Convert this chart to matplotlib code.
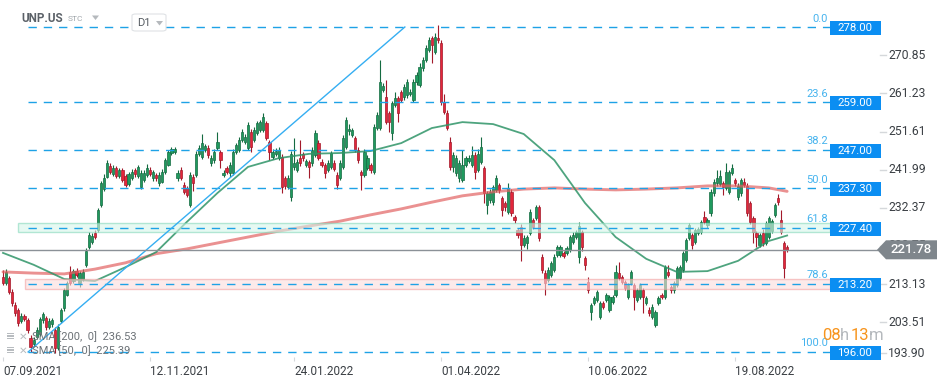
import numpy as np
import matplotlib
matplotlib.use('Agg')
import matplotlib.pyplot as plt
import matplotlib.transforms as mtransforms
from matplotlib.patches import Rectangle, Polygon, FancyBboxPatch
from matplotlib.lines import Line2D

plt.rcParams['font.family'] = ['Roboto', 'DejaVu Sans']

# ---------------- data ----------------
opens = [214.9, 213.4, 214.6, 211.1, 207.9, 206.6, 203.8, 205.1, 204.1, 199.5,
         198.0, 199.8, 200.5, 204.0, 204.5, 202.3, 203.0, 201.5, 197.0, 203.8,
         207.0, 210.5, 216.2, 214.0, 216.5, 213.5, 214.5, 218.0, 222.5, 223.8,
         226.0, 226.8, 233.1, 237.0, 240.2, 243.0, 241.0, 242.5, 240.5, 241.8,
         240.5, 238.5, 240.0, 241.8, 240.5, 237.6, 239.4, 240.7, 242.0, 239.8,
         240.7, 238.6, 239.0, 241.4, 243.2, 246.3, 246.5, 239.8, 242.0, 238.1,
         237.4, 233.1, 240.2, 240.7, 246.0, 245.2, 247.0, 247.5, 243.7, 244.4,
         247.5, 246.5, 240.7, 242.4, 241.2, 241.2, 246.5, 247.0, 249.5, 249.0,
         247.5, 251.5, 249.5, 251.3, 252.0, 252.0, 253.8, 249.0, 245.2, 246.0,
         244.9, 245.2, 239.8, 237.6, 235.0, 242.7, 242.0, 245.0, 246.0, 243.2,
         243.9, 243.7, 245.7, 248.7, 243.9, 243.2, 242.0, 242.7, 243.7, 240.7,
         239.9, 242.7, 247.7, 251.8, 250.8, 250.0, 247.0, 241.4, 240.7, 242.5,
         243.2, 241.4, 252.5, 252.5, 262.2, 260.3, 256.3, 251.3, 258.3, 260.0,
         261.6, 260.3, 260.8, 261.2, 259.6, 264.0, 263.4, 267.6, 269.7, 272.2,
         275.2, 271.7, 275.2, 274.0, 259.0, 256.3, 249.0, 242.7, 241.2, 239.9,
         239.4, 243.2, 244.2, 243.2, 245.7, 242.0, 244.0, 242.4, 233.0, 234.3,
         233.8, 236.9, 238.1, 234.8, 233.6, 231.3, 236.4, 230.0, 226.8, 227.5,
         223.0, 223.5, 226.0, 229.3, 229.8, 232.6, 220.0, 216.0, 214.2, 215.4,
         216.7, 220.5, 220.5, 221.0, 221.0, 221.8, 223.8, 225.0, 220.0, 226.3,
         219.7, 213.7, 206.0, 208.3, 209.1, 204.8, 208.3, 209.1, 206.6, 208.6,
         210.4, 216.0, 214.9, 213.7, 209.9, 213.4, 212.9, 209.1, 209.9, 211.6,
         208.3, 206.6, 204.8, 202.8, 208.3, 210.4, 209.9, 216.2, 212.4, 211.6,
         213.0, 214.7, 216.7, 219.2, 224.8, 225.5, 223.8, 226.0, 226.3, 230.0,
         228.0, 231.0, 236.0, 238.6, 238.4, 238.6, 237.4, 236.4, 241.2, 239.4,
         235.0, 236.0, 238.9, 238.0, 233.6, 229.8, 226.0, 223.0, 226.0, 223.5,
         225.0, 226.5, 230.5, 234.8, 229.3, 223.5, 222.5]

highs = [216.7, 217.0, 215.2, 211.8, 208.6, 207.2, 205.8, 205.6, 204.6, 200.2,
         199.8, 202.2, 204.8, 206.2, 205.0, 204.5, 204.6, 202.2, 203.0, 207.2,
         212.2, 214.0, 217.6, 217.0, 217.2, 216.4, 217.0, 222.2, 226.2, 226.0,
         226.8, 232.4, 239.2, 240.8, 244.5, 243.6, 243.2, 243.0, 242.4, 242.3,
         241.0, 241.4, 242.2, 242.4, 243.2, 241.8, 241.8, 243.4, 242.6, 242.0,
         241.2, 241.4, 242.2, 245.0, 247.0, 247.6, 247.8, 241.8, 242.6, 238.8,
         238.0, 241.4, 240.8, 246.8, 248.2, 251.0, 248.6, 248.2, 245.6, 247.2,
         251.5, 247.0, 241.8, 243.0, 244.0, 247.2, 248.8, 250.2, 252.2, 251.0,
         254.0, 252.2, 252.8, 254.4, 254.6, 256.3, 254.4, 249.6, 247.2, 247.4,
         247.6, 246.0, 240.4, 240.6, 246.8, 250.0, 244.6, 249.5, 246.5, 244.8,
         244.5, 247.6, 252.0, 249.5, 244.6, 243.8, 244.4, 246.8, 244.4, 241.3,
         244.4, 250.8, 255.2, 253.5, 252.6, 250.6, 247.6, 242.0, 247.2, 245.6,
         243.8, 253.5, 256.5, 269.7, 263.8, 264.6, 256.8, 259.4, 261.5, 260.6,
         262.2, 263.6, 265.0, 262.4, 264.8, 266.6, 268.8, 270.4, 273.4, 275.4,
         275.8, 276.4, 278.5, 274.6, 261.0, 257.0, 250.3, 246.4, 245.6, 244.4,
         247.0, 245.5, 245.6, 248.0, 246.4, 247.2, 250.3, 243.0, 236.6, 237.0,
         238.2, 240.6, 238.6, 235.4, 234.2, 238.6, 237.0, 230.6, 227.4, 228.2,
         225.4, 225.6, 232.0, 229.8, 233.2, 233.2, 220.6, 216.6, 217.4, 219.0,
         220.6, 223.0, 223.0, 221.6, 222.8, 225.6, 226.2, 226.8, 228.8, 226.8,
         220.2, 214.9, 208.4, 210.2, 211.6, 208.8, 208.8, 211.0, 210.4, 210.4,
         218.0, 218.7, 215.4, 214.2, 213.4, 216.8, 213.4, 212.2, 213.4, 212.2,
         210.2, 207.4, 208.0, 206.6, 210.2, 211.0, 218.0, 218.0, 213.0, 214.0,
         217.8, 218.0, 221.6, 224.8, 228.6, 226.0, 227.4, 227.6, 229.4, 231.5,
         229.8, 237.0, 239.6, 241.9, 242.0, 239.2, 243.6, 242.0, 243.5, 240.0,
         238.6, 240.0, 239.8, 238.6, 234.2, 230.4, 226.6, 226.0, 227.0, 229.0,
         230.4, 229.6, 233.6, 235.8, 231.8, 224.0, 222.9]

lows = [212.8, 213.0, 210.6, 207.6, 205.0, 202.6, 203.2, 203.8, 200.8, 196.0,
        197.2, 199.2, 200.0, 203.4, 201.6, 201.8, 202.2, 195.8, 196.4, 203.2,
        206.4, 210.0, 213.0, 213.5, 214.8, 212.4, 214.0, 217.5, 222.0, 223.2,
        224.4, 226.2, 232.6, 236.5, 239.8, 240.8, 240.4, 240.0, 239.8, 238.8,
        237.6, 238.0, 239.5, 240.2, 240.0, 237.0, 239.0, 240.2, 240.4, 239.2,
        239.2, 238.0, 238.6, 241.0, 242.8, 245.8, 246.0, 239.2, 239.4, 235.8,
        235.0, 232.6, 236.5, 240.2, 245.4, 244.8, 246.4, 245.0, 243.0, 243.8,
        247.0, 242.4, 240.2, 240.8, 240.2, 240.6, 246.0, 246.4, 249.0, 248.4,
        247.0, 246.5, 249.0, 250.8, 251.4, 251.6, 249.4, 244.4, 244.6, 245.4,
        244.4, 236.2, 237.2, 237.0, 234.0, 242.0, 241.4, 243.0, 244.2, 242.6,
        240.0, 243.0, 245.2, 244.4, 242.6, 240.0, 241.4, 242.2, 241.6, 237.0,
        239.3, 242.2, 247.2, 250.8, 250.2, 246.4, 243.8, 236.9, 240.2, 242.0,
        241.2, 240.8, 252.0, 252.0, 261.6, 253.4, 251.5, 249.5, 257.8, 254.0,
        259.0, 259.6, 260.2, 260.6, 259.0, 263.4, 262.8, 267.0, 269.2, 271.6,
        268.9, 271.2, 274.0, 258.4, 256.0, 252.0, 242.0, 241.4, 240.4, 239.0,
        238.8, 242.6, 243.6, 242.6, 239.6, 241.4, 243.4, 233.6, 230.8, 233.6,
        233.2, 236.4, 236.2, 230.4, 231.6, 230.8, 230.4, 228.6, 224.8, 219.0,
        222.4, 222.0, 225.4, 227.0, 229.2, 224.0, 216.0, 210.4, 213.6, 214.8,
        216.2, 220.0, 220.0, 219.6, 220.4, 221.2, 223.2, 224.4, 218.5, 221.6,
        216.7, 211.0, 204.1, 207.8, 208.6, 204.2, 206.8, 208.6, 206.0, 208.0,
        209.8, 214.2, 213.2, 211.6, 209.4, 212.8, 206.5, 208.6, 209.4, 205.8,
        207.8, 205.2, 204.2, 202.3, 207.8, 209.4, 209.4, 214.8, 211.0, 211.0,
        212.4, 214.2, 216.2, 218.6, 224.2, 222.0, 223.2, 225.4, 225.8, 228.2,
        227.4, 230.4, 235.4, 238.0, 237.8, 235.5, 236.8, 235.8, 240.6, 238.0,
        234.4, 235.4, 237.6, 230.4, 228.2, 223.5, 222.5, 222.4, 222.8, 223.0,
        224.4, 226.0, 230.0, 233.2, 225.8, 214.7, 221.2]

closes = [213.4, 216.2, 211.1, 208.4, 205.8, 203.3, 205.1, 204.4, 201.5, 197.3,
          199.0, 201.5, 204.3, 205.5, 202.3, 203.8, 204.0, 197.0, 202.3, 206.6,
          211.6, 213.4, 213.5, 216.5, 215.5, 215.8, 216.3, 221.5, 225.5, 225.3,
          225.0, 231.8, 238.6, 240.0, 243.7, 241.5, 242.5, 240.5, 241.8, 239.5,
          238.2, 240.8, 241.5, 240.8, 242.6, 241.2, 241.2, 242.4, 241.0, 241.5,
          239.9, 240.7, 241.5, 244.4, 246.5, 247.1, 247.2, 241.2, 240.0, 236.4,
          235.6, 240.7, 238.6, 246.0, 247.5, 248.7, 248.0, 245.7, 245.0, 246.5,
          249.0, 244.4, 241.2, 241.4, 243.2, 246.5, 248.2, 249.5, 251.5, 250.3,
          253.3, 247.7, 252.0, 253.8, 254.0, 255.3, 250.0, 246.5, 246.5, 246.8,
          247.0, 237.6, 238.0, 240.0, 246.0, 243.7, 244.0, 243.7, 244.9, 244.2,
          242.7, 247.0, 251.3, 245.0, 243.2, 241.2, 243.7, 246.2, 242.2, 238.1,
          243.7, 250.0, 254.5, 252.3, 252.0, 247.0, 244.4, 240.7, 246.5, 245.0,
          241.9, 252.8, 255.8, 264.0, 263.0, 254.0, 254.0, 258.8, 260.0, 256.3,
          259.6, 262.9, 264.0, 261.6, 264.0, 265.9, 268.0, 269.7, 272.7, 274.7,
          273.5, 275.5, 274.7, 259.0, 256.6, 252.5, 242.7, 245.7, 245.0, 243.7,
          243.2, 244.9, 245.0, 245.7, 241.4, 246.0, 247.7, 236.1, 236.0, 236.4,
          237.6, 239.9, 236.9, 231.8, 232.6, 237.4, 231.0, 229.3, 225.5, 223.0,
          224.8, 225.0, 231.3, 227.5, 232.6, 224.8, 216.7, 213.4, 216.7, 218.5,
          220.0, 222.5, 222.4, 220.3, 222.2, 225.0, 225.5, 226.3, 227.8, 222.5,
          218.0, 211.6, 207.9, 209.6, 211.1, 208.3, 207.4, 210.4, 209.9, 209.9,
          216.2, 214.7, 213.7, 212.2, 212.9, 216.2, 209.9, 211.6, 212.9, 209.9,
          209.6, 205.8, 207.4, 206.1, 209.6, 209.9, 217.4, 215.4, 211.6, 213.4,
          217.2, 217.4, 221.0, 224.3, 228.0, 223.0, 226.8, 227.0, 228.8, 228.8,
          229.3, 236.4, 238.9, 239.9, 240.4, 237.6, 241.4, 241.4, 242.4, 238.6,
          238.0, 239.4, 238.1, 231.0, 228.8, 226.3, 225.0, 225.5, 223.5, 228.5,
          229.8, 229.0, 233.0, 233.8, 226.3, 217.2, 221.78]

# moving averages, read at every 10th candle (plus the last)
sma_idx = [0, 10, 20, 30, 40, 50, 60, 70, 80, 90, 100, 110, 120, 130, 140,
           150, 160, 170, 180, 190, 200, 210, 220, 230, 240, 250, 256]
sma200 = [216.2, 215.9, 215.7, 216.9, 218.5, 220.8, 222.0, 223.5, 225.0, 226.5,
          227.8, 229.0, 230.6, 232.1, 233.8, 235.4, 236.4, 237.1, 237.4, 237.1,
          236.9, 237.1, 237.4, 237.9, 237.9, 237.4, 236.53]
sma50 = [221.0, 218.0, 214.4, 213.9, 217.4, 221.2, 228.8, 236.1, 242.7, 244.9,
         246.0, 246.2, 246.7, 248.7, 252.5, 254.0, 253.5, 251.0, 244.4, 233.6,
         225.0, 219.5, 216.2, 216.4, 219.0, 224.0, 225.39]

date_labels = ['07.09.2021', '12.11.2021', '24.01.2022', '01.04.2022', '10.06.2022', '19.08.2022']
date_idx = [0, 48, 95, 143, 191, 239]

price_ticks = [270.85, 261.23, 251.61, 241.99, 232.37, 222.75, 213.13, 203.51, 193.90]

fib_levels = [278.00, 259.00, 247.00, 237.30, 227.40, 213.20, 196.00]
fib_names = ['0.0', '23.6', '38.2', '50.0', '61.8', '78.6', '100.0']

trend_idx = [8.2, 131.2]
trend_val = [196.0, 278.0]

zone_green = (226.2, 228.5)
zone_red = (211.9, 214.4)
last_price = 221.78
sma200_last, sma50_last = 236.53, 225.39

# ---------------- layout ----------------
W, H = 949, 384
fig = plt.figure(figsize=(W / 100, H / 100), dpi=100)
fig.patch.set_facecolor('white')
AX_R, AX_B = 830, 357           # axes right / bottom in px
ax = fig.add_axes([0, 1 - AX_B / H, AX_R / W, AX_B / H])
PXP = 3.963                     # px per price unit
ax.set_ylim(278.0 - (AX_B - 27) / PXP, 278.0 + 27 / PXP)
X0, DX = 3.0, 3.063
px2i = lambda x: (x - X0) / DX
ax.set_xlim(px2i(0), px2i(AX_R))
for s in ax.spines.values():
    s.set_visible(False)
ax.set_yticks([])
ax.set_facecolor('white')

bt = mtransforms.blended_transform_factory(fig.transFigure, ax.transData)

# ---------------- candles ----------------
o = np.array(opens); h = np.array(highs); l = np.array(lows); c = np.array(closes)
idx = np.arange(len(c))
up = c >= o
face = np.where(up, '#1f9a5e', '#e3263b')
edge = np.where(up, '#146b41', '#a3192a')
ax.vlines(idx, l, h, colors=edge, lw=0.8, zorder=2)
ax.bar(idx, np.maximum(np.abs(c - o), 0.25), bottom=np.minimum(o, c), width=0.72,
       color=face, edgecolor=edge, linewidth=0.5, zorder=3)

# ---------------- moving averages ----------------
ax.plot(sma_idx, sma200, color='#e26262', lw=2.1, alpha=0.7, zorder=4, solid_capstyle='round')
ax.plot(sma_idx, sma50, color='#2f9468', lw=1.3, alpha=0.85, zorder=4)

# ---------------- zones ----------------
ax.add_patch(Rectangle((px2i(18), zone_green[0]), px2i(AX_R) - px2i(18), zone_green[1] - zone_green[0],
                       facecolor='#d6f5ea', alpha=0.6, edgecolor='#86d9bb', lw=1.0, zorder=5))
ax.add_patch(Rectangle((px2i(25), zone_red[0]), px2i(AX_R) - px2i(25), zone_red[1] - zone_red[0],
                       facecolor='#fbdcdc', alpha=0.6, edgecolor='#f2a3a3', lw=1.0, zorder=5))

# ---------------- fib levels ----------------
fib_start = px2i(28)
ax.hlines(fib_levels, fib_start, px2i(AX_R), colors='#1ea2e6', lw=1.0,
          linestyles=(0, (6, 5)), zorder=6)
for lv, nm in zip(fib_levels, fib_names):
    ax.annotate(nm, (px2i(828), lv), xytext=(0, 2.5), textcoords='offset points',
                ha='right', va='bottom', fontsize=8, color='#45b3ee', zorder=7,
                annotation_clip=False)

# trend line of fib tool
ax.plot(trend_idx, trend_val, color='#35aef2', lw=1.0, zorder=6)

# current price line
ax.add_line(Line2D([0, 877 / W], [last_price, last_price], transform=bt, color='#8b9197',
                   lw=1.0, zorder=6, clip_on=False))

# ---------------- x axis ----------------
ax.set_xticks(date_idx)
ax.set_xticklabels(date_labels, ha='left', fontsize=8.5, color='#3a3f44')
ax.tick_params(axis='x', direction='out', length=3, color='#d5d8db', pad=3)

# ---------------- right price axis ----------------
ybot = ax.get_ylim()[0]
for v in price_ticks:
    yv = max(v, ybot + 1.0)
    ax.text(888 / W, yv, f'{v:.2f}', transform=bt, ha='left', va='center',
            fontsize=8.7, color='#3a3f44', clip_on=False, zorder=1)
    ax.add_line(Line2D([880 / W, 886 / W], [yv, yv], transform=bt, color='#d5d8db',
                       lw=1, clip_on=False))

for lv in fib_levels:
    hh = 14 / PXP
    ax.add_patch(Rectangle((830 / W, lv - hh / 2 - 0.25), 51 / W, hh, transform=bt,
                           facecolor='#0b8ef2', edgecolor='none', clip_on=False, zorder=8))
    ax.text(855 / W, lv - 0.25, f'{lv:.2f}', transform=bt, ha='center', va='center',
            fontsize=8.2, color='white', clip_on=False, zorder=9)

# grey current price tag
gh = 9.5 / PXP
ax.add_patch(Polygon([(877 / W, last_price), (886 / W, last_price + gh), (937 / W, last_price + gh),
                      (937 / W, last_price - gh), (886 / W, last_price - gh)],
                     closed=True, transform=bt, facecolor='#7f868c', edgecolor='none',
                     clip_on=False, zorder=8))
ax.text(911 / W, last_price, f'{last_price:.2f}', transform=bt, ha='center', va='center',
        fontsize=9.5, color='white', fontweight='medium', clip_on=False, zorder=9)

# ---------------- header ----------------
def fx(x): return x / W
def fy(y): return 1 - y / H

fig.text(fx(21), fy(18), 'UNP.US', fontsize=8.5, fontweight='bold', color='#5b6168',
         ha='left', va='center')
fig.text(fx(68), fy(19), 'STC', fontsize=6, color='#a0a6ab', ha='left', va='center')
fig.patches.append(Polygon([(fx(92), fy(15.5)), (fx(99), fy(15.5)), (fx(95.5), fy(20))],
                           closed=True, transform=fig.transFigure, facecolor='#b5b9bd',
                           edgecolor='none'))
fig.patches.append(FancyBboxPatch((fx(132), fy(31)), fx(34), 17 / H,
                                  boxstyle='round,pad=0,rounding_size=0.004',
                                  transform=fig.transFigure, facecolor='white',
                                  edgecolor='#dfe2e5', lw=0.8))
fig.text(fx(137), fy(23), 'D1', fontsize=8, color='#555b61', ha='left', va='center')
fig.patches.append(Polygon([(fx(156), fy(21)), (fx(163), fy(21)), (fx(159.5), fy(25.5))],
                           closed=True, transform=fig.transFigure, facecolor='#b5b9bd',
                           edgecolor='none'))

# ---------------- indicator legend ----------------
for yy, txt in [(337, f'SMA [200,  0]  {sma200_last:.2f}'), (351, f'SMA [50,  0]  {sma50_last:.2f}')]:
    for k in range(3):
        fig.patches.append(Rectangle((fx(7), fy(yy - 3 + k * 2.6)), fx(7), 1.3 / H,
                                     transform=fig.transFigure, facecolor='#b8bcc0',
                                     edgecolor='none'))
    fig.text(fx(23), fy(yy), '✕', fontsize=7.5, fontweight='bold', color='#b8bcc0',
             ha='center', va='center', family=['DejaVu Sans'])
    fig.text(fx(32), fy(yy), txt, fontsize=8, color='#6c7277', ha='left', va='center')

# ---------------- countdown ----------------
fig.text(fx(822), fy(336), '08', fontsize=12, color='#f7941d', ha='left', va='center')
fig.text(fx(840), fy(336), 'h', fontsize=12, color='#b5b9bd', ha='left', va='center')
fig.text(fx(851), fy(336), '13', fontsize=12, color='#f7941d', ha='left', va='center')
fig.text(fx(869), fy(336), 'm', fontsize=12, color='#b5b9bd', ha='left', va='center')

fig.savefig('out.png', dpi=100, facecolor='white')
